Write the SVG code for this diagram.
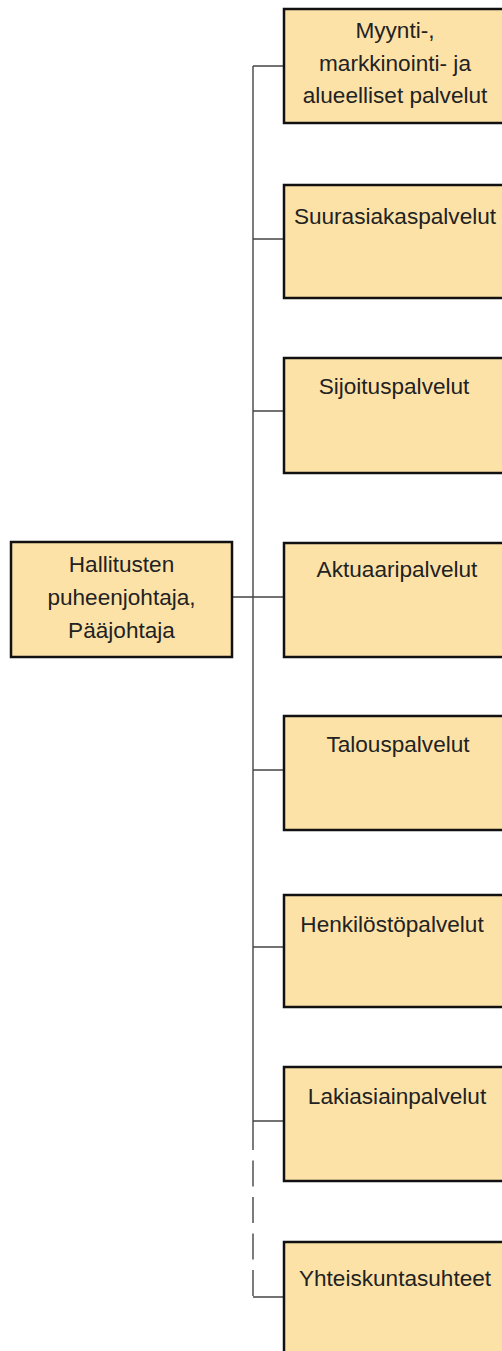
<svg xmlns="http://www.w3.org/2000/svg" width="502" height="1351" viewBox="0 0 502 1351">
<style>
.box{fill:#FDE2A8;stroke:#111;stroke-width:2.5}
.t{font-family:"Liberation Sans",Arial,sans-serif;font-size:22.6px;fill:#222;text-anchor:middle}
.c{stroke:#444;stroke-width:1.4;fill:none}
</style>
<rect width="502" height="1351" fill="#fff"/>
<g id="connectors">
<path class="c" d="M253 66V1124"/>
<path class="c" d="M253 1124V1297" stroke-dasharray="26 10.5"/>
<path class="c" d="M253 66H284M253 239H284M253 411H284M232 597H284M253 770H284M253 947H284M253 1121H284M253 1297H284"/>
</g>
<g id="n0"><rect class="box" x="11" y="542" width="221" height="115"/>
<text class="t" x="121.5" y="572">Hallitusten</text><text class="t" x="121.5" y="605">puheenjohtaja,</text><text class="t" x="121.5" y="638">Pääjohtaja</text></g>
<g id="n1"><rect class="box" x="284" y="9" width="224" height="114"/>
<text class="t" x="395" y="38">Myynti-,</text><text class="t" x="395" y="71">markkinointi- ja</text><text class="t" x="395" y="103">alueelliset palvelut</text></g>
<g id="n2"><rect class="box" x="284" y="185" width="224" height="113"/><text class="t" x="395" y="224">Suurasiakaspalvelut</text></g>
<g id="n3"><rect class="box" x="284" y="358" width="224" height="115"/><text class="t" x="394" y="394">Sijoituspalvelut</text></g>
<g id="n4"><rect class="box" x="284" y="543" width="224" height="114"/><text class="t" x="397" y="577">Aktuaaripalvelut</text></g>
<g id="n5"><rect class="box" x="284" y="716" width="224" height="114"/><text class="t" x="398" y="752">Talouspalvelut</text></g>
<g id="n6"><rect class="box" x="284" y="895" width="224" height="112"/><text class="t" x="392" y="932">Henkilöstöpalvelut</text></g>
<g id="n7"><rect class="box" x="284" y="1067" width="224" height="114"/><text class="t" x="397" y="1104">Lakiasiainpalvelut</text></g>
<g id="n8"><rect class="box" x="284" y="1242" width="224" height="120"/><text class="t" x="395" y="1286">Yhteiskuntasuhteet</text></g>
</svg>
